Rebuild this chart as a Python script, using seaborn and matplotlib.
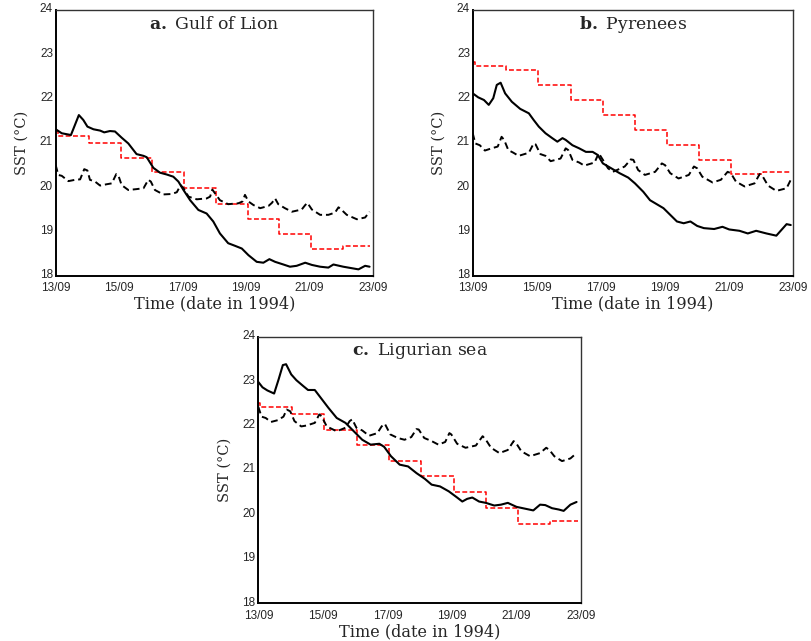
import numpy as np
import pandas as pd
import matplotlib
matplotlib.use("Agg")
import matplotlib.pyplot as plt
import matplotlib.transforms as mtransforms
import seaborn as sns

# Sea surface temperature, 13/09 to 23/09 1994 (time in days after 13/09 00h)
# a. Gulf of Lion
a_obs_t = [0, 0.19, 0.48, 0.73, 0.87, 1.0, 1.19, 1.4, 1.53, 1.71, 1.87, 2.08, 2.29, 2.55, 2.77, 2.87,
           3.08, 3.29, 3.5, 3.71, 3.87, 4.03, 4.24, 4.5, 4.76, 4.97, 5.18, 5.44, 5.66, 5.87, 6.08,
           6.34, 6.55, 6.74, 6.92, 7.18, 7.39, 7.6, 7.87, 8.08, 8.34, 8.6, 8.76, 9.07, 9.39, 9.55,
           9.76, 9.9]
a_obs_v = [21.31, 21.22, 21.18, 21.63, 21.52, 21.37, 21.31, 21.28, 21.24, 21.27, 21.26, 21.12, 20.99,
           20.75, 20.71, 20.68, 20.44, 20.33, 20.29, 20.24, 20.13, 19.94, 19.71, 19.49, 19.41, 19.23,
           18.96, 18.74, 18.68, 18.62, 18.47, 18.32, 18.30, 18.38, 18.32, 18.26, 18.21, 18.23, 18.30,
           18.25, 18.21, 18.19, 18.26, 18.21, 18.17, 18.15, 18.23, 18.21]
a_mod_t = [0, 0.08, 0.19, 0.4, 0.61, 0.77, 0.9, 1.0, 1.08, 1.24, 1.4, 1.61, 1.77, 1.91, 1.98, 2.08,
           2.29, 2.55, 2.77, 2.92, 3.0, 3.13, 3.39, 3.66, 3.82, 3.94, 4.03, 4.19, 4.45, 4.76, 4.87,
           4.94, 5.03, 5.18, 5.44, 5.76, 5.89, 5.97, 6.08, 6.24, 6.45, 6.71, 6.82, 6.92, 7.02, 7.23,
           7.45, 7.76, 7.87, 7.94, 8.08, 8.34, 8.6, 8.81, 8.92, 9.02, 9.18, 9.5, 9.76, 9.9]
a_mod_v = [20.5, 20.28, 20.26, 20.14, 20.17, 20.18, 20.41, 20.38, 20.17, 20.13, 20.04, 20.07, 20.09,
           20.3, 20.26, 20.05, 19.94, 19.96, 19.98, 20.17, 20.13, 19.94, 19.84, 19.85, 19.89, 20.05,
           19.98, 19.79, 19.73, 19.75, 19.79, 19.95, 19.86, 19.71, 19.62, 19.64, 19.68, 19.83, 19.68,
           19.6, 19.53, 19.58, 19.65, 19.75, 19.62, 19.53, 19.45, 19.5, 19.6, 19.65, 19.5, 19.38,
           19.38, 19.43, 19.55, 19.49, 19.38, 19.28, 19.32, 19.45]
a_clim = [21.27, 21.16, 21.01, 20.67, 20.34, 19.98, 19.62, 19.29, 18.94, 18.60, 18.68]

# b. Pyrenees
b_obs_t = [0, 0.17, 0.35, 0.5, 0.64, 0.75, 0.87, 1.01, 1.22, 1.48, 1.75, 1.9, 2.06, 2.27, 2.48, 2.64,
           2.8, 2.9, 3.11, 3.32, 3.53, 3.74, 3.9, 4.06, 4.32, 4.58, 4.85, 5.06, 5.32, 5.53, 5.74,
           5.95, 6.16, 6.37, 6.58, 6.79, 7.0, 7.21, 7.53, 7.79, 8.0, 8.32, 8.58, 8.84, 9.16, 9.47,
           9.63, 9.79, 9.92]
b_obs_v = [22.12, 22.03, 21.97, 21.86, 22.01, 22.31, 22.36, 22.12, 21.93, 21.77, 21.67, 21.52, 21.37,
           21.22, 21.11, 21.03, 21.11, 21.07, 20.95, 20.88, 20.80, 20.80, 20.73, 20.54, 20.43, 20.32,
           20.22, 20.09, 19.90, 19.71, 19.62, 19.53, 19.38, 19.23, 19.19, 19.23, 19.13, 19.08, 19.06,
           19.11, 19.05, 19.02, 18.96, 19.02, 18.96, 18.91, 19.04, 19.17, 19.15]
b_mod_t = [0, 0.08, 0.22, 0.38, 0.59, 0.78, 0.9, 0.98, 1.11, 1.27, 1.43, 1.75, 1.9, 1.96, 2.11, 2.27,
           2.43, 2.74, 2.9, 2.98, 3.11, 3.32, 3.48, 3.8, 3.93, 4.06, 4.22, 4.37, 4.53, 4.74, 4.93,
           5.01, 5.16, 5.37, 5.69, 5.9, 6.0, 6.16, 6.42, 6.74, 6.9, 7.0, 7.16, 7.48, 7.74, 7.95,
           8.05, 8.21, 8.48, 8.79, 8.95, 9.05, 9.21, 9.47, 9.79, 9.92]
b_mod_v = [21.22, 20.99, 20.95, 20.83, 20.88, 20.92, 21.14, 21.07, 20.84, 20.78, 20.71, 20.78, 20.99,
           20.97, 20.75, 20.71, 20.59, 20.65, 20.88, 20.84, 20.62, 20.56, 20.49, 20.56, 20.77, 20.62,
           20.43, 20.35, 20.4, 20.47, 20.63, 20.62, 20.39, 20.28, 20.35, 20.54, 20.5, 20.32, 20.2,
           20.28, 20.47, 20.43, 20.24, 20.11, 20.17, 20.35, 20.32, 20.13, 20.02, 20.09, 20.3, 20.24,
           20.04, 19.92, 19.98, 20.17]
b_clim = [22.83, 22.74, 22.65, 22.30, 21.97, 21.64, 21.29, 20.96, 20.62, 20.30, 20.35]

# c. Ligurian sea
c_obs_t = [0, 0.13, 0.28, 0.49, 0.63, 0.76, 0.86, 1.02, 1.18, 1.39, 1.54, 1.75, 1.96, 2.17, 2.43, 2.7,
           2.96, 3.22, 3.48, 3.75, 3.9, 4.11, 4.38, 4.64, 4.9, 5.16, 5.37, 5.63, 5.9, 6.16, 6.32,
           6.47, 6.63, 6.84, 7.05, 7.31, 7.52, 7.73, 8.0, 8.26, 8.52, 8.73, 8.89, 9.1, 9.31, 9.46,
           9.67, 9.86]
c_obs_v = [22.98, 22.86, 22.79, 22.72, 23.04, 23.36, 23.38, 23.15, 23.02, 22.89, 22.80, 22.80, 22.60,
           22.40, 22.17, 22.06, 21.87, 21.68, 21.57, 21.59, 21.52, 21.31, 21.12, 21.08, 20.93, 20.80,
           20.67, 20.63, 20.52, 20.38, 20.29, 20.35, 20.38, 20.29, 20.26, 20.20, 20.22, 20.26, 20.17,
           20.13, 20.09, 20.22, 20.21, 20.14, 20.11, 20.08, 20.22, 20.28]
c_mod_t = [0, 0.1, 0.23, 0.39, 0.6, 0.78, 0.88, 0.99, 1.12, 1.33, 1.49, 1.75, 1.89, 1.96, 2.12, 2.43,
           2.7, 2.83, 2.91, 3.04, 3.22, 3.43, 3.69, 3.82, 3.92, 4.09, 4.32, 4.53, 4.74, 4.9, 4.97,
           5.14, 5.37, 5.58, 5.79, 5.92, 5.98, 6.16, 6.42, 6.74, 6.95, 7.05, 7.21, 7.47, 7.73, 7.91,
           8.0, 8.15, 8.42, 8.73, 8.92, 9.02, 9.17, 9.41, 9.67, 9.86]
c_mod_v = [22.42, 22.2, 22.17, 22.08, 22.12, 22.2, 22.36, 22.32, 22.1, 21.98, 22.0, 22.06, 22.25, 22.21,
           21.98, 21.87, 21.95, 22.1, 22.14, 21.95, 21.89, 21.77, 21.83, 21.98, 22.04, 21.8, 21.72,
           21.68, 21.74, 21.92, 21.91, 21.72, 21.65, 21.57, 21.63, 21.83, 21.8, 21.59, 21.5, 21.55,
           21.76, 21.68, 21.5, 21.38, 21.45, 21.65, 21.59, 21.42, 21.31, 21.38, 21.5, 21.45, 21.31,
           21.2, 21.26, 21.38]
c_clim = [22.51, 22.42, 22.27, 21.91, 21.56, 21.21, 20.86, 20.50, 20.14, 19.79, 19.86]

# daily climatology: first value at t=0, then one value per day (change shortly after midnight)
clim_t = [0, 0.06, 1.05, 2.05, 3.05, 4.05, 5.05, 6.05, 7.05, 8.05, 9.05]
clim_end = 9.9

xtick_labels = ["13/09", "15/09", "17/09", "19/09", "21/09", "23/09"]

sns.set_style("white")
plt.rcParams["font.family"] = ["Liberation Sans", "DejaVu Sans"]
plt.rcParams["mathtext.fontset"] = "dejavuserif"

fig = plt.figure(figsize=(8.11, 6.41), dpi=100)
ax_a = fig.add_axes([0.0687, 0.5694, 0.3909, 0.415])
ax_b = fig.add_axes([0.5829, 0.5694, 0.3953, 0.415])
ax_c = fig.add_axes([0.3185, 0.0588, 0.398, 0.416])

panels = [
    (ax_a, "a.", "Gulf of Lion", a_obs_t, a_obs_v, a_mod_t, a_mod_v, a_clim),
    (ax_b, "b.", "Pyrenees", b_obs_t, b_obs_v, b_mod_t, b_mod_v, b_clim),
    (ax_c, "c.", "Ligurian sea", c_obs_t, c_obs_v, c_mod_t, c_mod_v, c_clim),
]

# y tick labels sit a little above their ticks
shift_up = mtransforms.ScaledTranslation(0, 1.5 / 72, fig.dpi_scale_trans)

for ax, letter, name, ot, ov, mt, mv, clim in panels:
    ct = clim_t + [clim_end]
    cv = clim + [clim[-1]]
    sns.lineplot(x=ct, y=cv, ax=ax, color="red", lw=1.1, dashes=False,
                 drawstyle="steps-post", sort=False, estimator=None)
    ax.lines[-1].set_linestyle((0, (3.2, 1.6)))
    sns.lineplot(x=mt, y=mv, ax=ax, color="black", lw=1.4, sort=False, estimator=None)
    ax.lines[-1].set_linestyle((0, (3.5, 2.0)))
    sns.lineplot(x=ot, y=ov, ax=ax, color="black", lw=1.5, sort=False, estimator=None)

    ax.set_xlim(0, 10)
    ax.set_ylim(18, 24)
    ax.set_xticks(range(0, 11, 2))
    ax.set_xticklabels(xtick_labels)
    ax.set_yticks(range(18, 25))
    ax.tick_params(direction="in", length=4, color="#999999", labelsize=8.5)
    ax.tick_params(axis="x", pad=4.5)
    ax.tick_params(axis="y", pad=2)
    for lab in ax.get_yticklabels():
        lab.set_transform(lab.get_transform() + shift_up)
    for s in ax.spines.values():
        s.set_color("#333333")
        s.set_linewidth(1.0)
    ax.spines["left"].set_color("black")
    ax.spines["bottom"].set_color("black")
    ax.spines["left"].set_linewidth(1.4)
    ax.spines["bottom"].set_linewidth(1.4)
    ax.set_xlabel("Time (date in 1994)", family="DejaVu Serif", fontsize=11.6, labelpad=1)
    ax.set_ylabel("SST (°C)", family="DejaVu Serif", fontsize=10.5, labelpad=8)
    ax.text(0.5, 0.945, r"$\mathbf{" + letter + "}$ " + name, transform=ax.transAxes,
            ha="center", va="center", family="DejaVu Serif", fontsize=12.4)

fig.savefig("out.png", dpi=100)
